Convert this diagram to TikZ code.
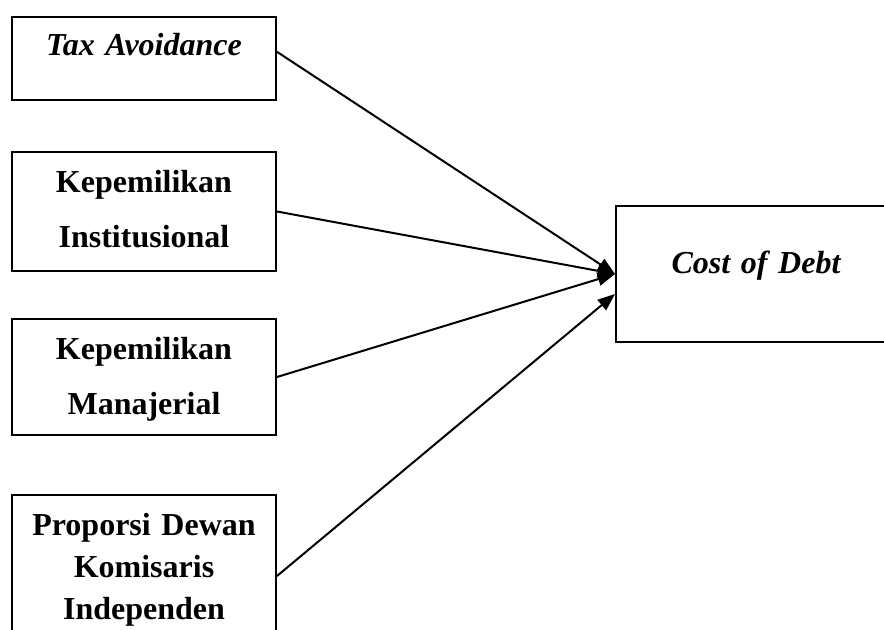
\documentclass[tikz,border=0pt]{standalone}
\usepackage{fontspec}
\setmainfont{Liberation Serif}
\usetikzlibrary{arrows.meta, positioning}

\begin{document}
\begin{tikzpicture}[
    box/.style={draw, line width=1.5pt, text width=198pt, align=center,
                inner xsep=0pt, inner ysep=0pt, text height=30pt,
                font=\fontsize{24}{41.25}\selectfont\bfseries},
    arr/.style={-{Triangle[length=13pt, width=10pt]}, line width=1.5pt}
  ]
    \useasboundingbox (0,0) rectangle (663pt,-472.5pt);
    \clip (0,0) rectangle (663pt,-472.5pt);
    \node[box, anchor=north west, text height=29.25pt, text depth=33pt]
        (tax) at (8.25pt,-12pt) {\textit{Tax Avoidance}};
    \node[box, below=37.5pt of tax, text height=30.75pt, text depth=58.5pt]
        (inst) {Kepemilikan\\Institusional};
    \node[box, below=34.5pt of inst, text depth=57pt]
        (manaj) {Kepemilikan\\Manajerial};
    \node[box, below=43.5pt of manaj, text depth=91.5pt,
          font=\fontsize{24}{31.5}\selectfont\bfseries]
        (indep) {Proporsi Dewan\\Komisaris\\Independen};
    \node[box, anchor=north west, text width=210pt, text height=51pt,
          text depth=51pt, font=\fontsize{24}{30}\selectfont\bfseries\itshape]
        (cod) at (461.25pt,-153.75pt) {Cost of Debt};
    \draw[arr] ([yshift=5pt]tax.east) -- (cod.west);
    \draw[arr] (inst.east) -- (cod.west);
    \draw[arr] (manaj.east) -- (cod.west);
    \draw[arr] (indep.east) -- ([yshift=-15pt]cod.west);
\end{tikzpicture}
\end{document}
